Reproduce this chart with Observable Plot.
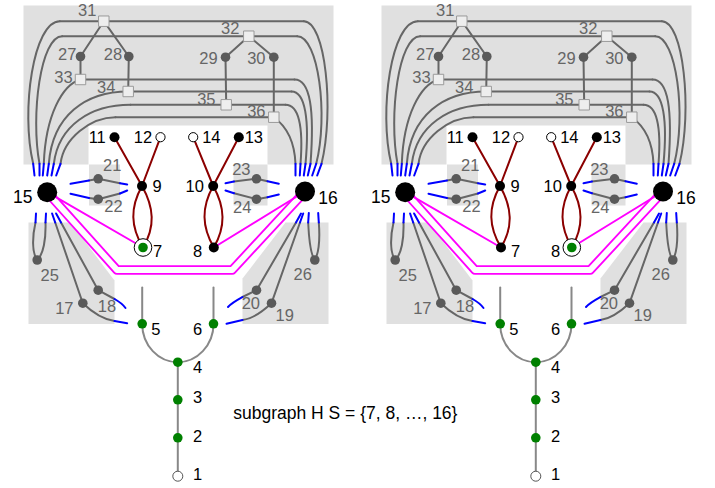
<!DOCTYPE html>
<html><head><meta charset="utf-8">
<style>
html,body{margin:0;padding:0;background:#fff;}
#chart{width:715px;height:488px;}
</style>
<script src="https://cdn.jsdelivr.net/npm/d3@7"></script>
<script src="https://cdn.jsdelivr.net/npm/@observablehq/plot@0.6"></script>
</head><body><div id="chart"></div>
<script>
// ---------- data (left panel coordinates) ----------
const panels = [{dx: 0, marked: 7}, {dx: 358, marked: 8}];

const nodes = [
  {id:1,x:177.3,y:475.7},{id:2,x:177.3,y:437.3},{id:3,x:177.3,y:399.3},{id:4,x:177.3,y:361.7},
  {id:5,x:141.7,y:323.3},{id:6,x:213,y:323.3},{id:7,x:142.5,y:247},{id:8,x:213.3,y:247},
  {id:9,x:141.5,y:185.5},{id:10,x:212.7,y:185.5},{id:11,x:114,y:136.7},{id:12,x:160,y:136.7},
  {id:13,x:238.3,y:136.7},{id:14,x:192.7,y:136.7},{id:15,x:46.7,y:191.7},{id:16,x:304.5,y:191},
  {id:17,x:82.3,y:302.7},{id:18,x:97.7,y:289.7},{id:19,x:271,y:302.7},{id:20,x:256,y:289.7},
  {id:21,x:97.7,y:178.3},{id:22,x:97.7,y:198.7},{id:23,x:256,y:178.3},{id:24,x:256,y:198.7},
  {id:25,x:36.7,y:259.5},{id:26,x:314.3,y:259.5},{id:27,x:80,y:56},{id:28,x:128.3,y:56},
  {id:29,x:225,y:56.7},{id:30,x:273.3,y:56.7},{id:31,x:103.3,y:20.7},{id:32,x:248.3,y:35.7},
  {id:33,x:80,y:79},{id:34,x:127.7,y:91},{id:35,x:225.7,y:104.3},{id:36,x:273.3,y:116.7}
];
const greenIds = [2,3,4,5,6];
const openIds = [1];
const blackIds = [9,10,11,13];
const whiteIds = [12,14];
const hubIds = [15,16];
const grayIds = [17,18,19,20,21,22,23,24,25,26,27,28,29,30];
const squareIds = [31,32,33,34,35,36];
const pairIds = [7,8];

const labels = [
  {id:1,x:197.2,y:474.2},{id:2,x:197.2,y:435.8},{id:3,x:197.2,y:397.5},{id:4,x:197.2,y:367.2},
  {id:5,x:155.3,y:329.5},{id:6,x:197.2,y:329.5},{id:7,x:157.2,y:250.8},{id:8,x:197.2,y:250.8},
  {id:9,x:156.7,y:186},{id:10,x:194.2,y:185.8},{id:11,x:96.7,y:137},{id:12,x:142.5,y:137},
  {id:13,x:253.3,y:137},{id:14,x:210.8,y:137},{id:15,x:22.2,y:196.7},{id:16,x:327.5,y:197.5},
  {id:17,x:63.8,y:308.3},{id:18,x:106.5,y:306.2},{id:19,x:284.2,y:315.5},{id:20,x:250.3,y:303},
  {id:21,x:111.7,y:165.5},{id:22,x:113,y:206.5},{id:23,x:240.8,y:169.2},{id:24,x:241.7,y:207.3},
  {id:25,x:49.2,y:274.8},{id:26,x:302.2,y:274.2},{id:27,x:66.7,y:54.2},{id:28,x:112.5,y:54.2},
  {id:29,x:208,y:58.3},{id:30,x:255.8,y:58.3},{id:31,x:86.7,y:10.3},{id:32,x:229.7,y:28.7},
  {id:33,x:63,y:77},{id:34,x:105.7,y:87.5},{id:35,x:205.8,y:98.8},{id:36,x:255.8,y:111.3}
];

const caption = [{x:232.7, y:412.7, text:"subgraph H S = {7, 8, \u2026, 16}"}];

// shaded regions (polygons)
const regions = [
  [[23,5],[333,5],[333,164],[267,164],[267,125],[88,125],[88,164],[23,164]],
  [[88.5,164],[119.5,164],[119.5,205],[88.5,205]],
  [[233,164],[267,164],[267,205],[233,205]],
  [[28,222],[70,222],[114,280],[114,323.5],[28,323.5]],
  [[328,222],[285,222],[242,278],[242,323.5],[328,323.5]]
];

// gray edge pieces: 2 points = segment, 4 points = cubic bezier
const grayPaths = [
  // top-left arcs to 15
  [[59.3,20.7],[33,20.7],[20,110],[32.7,163.3]],
  [[61.7,35.7],[40,35.7],[30,115],[39,163.3]],
  [[80,79],[62,84],[45,115],[43.3,163.3]],
  [[127.7,91],[85,91],[52,115],[48.3,163.3]],
  [[130,104.3],[90,104.3],[58,125],[53.3,163.3]],
  [[115,116.7],[90,116.7],[63,138],[60,163.3]],
  // horizontals
  [[59.3,20.7],[303.3,20.7]],
  [[61.7,35.7],[296.7,35.7]],
  [[80,79],[294,79]],
  [[127.7,91],[291,91]],
  [[130,104.3],[285,104.3]],
  [[115,116.7],[273.3,116.7]],
  // top-right arcs to 16
  [[303.3,20.7],[325,20.7],[334,110],[321,163.3]],
  [[296.7,35.7],[318,35.7],[328,115],[315.7,163.3]],
  [[294,79],[310,79],[314,110],[310,163.3]],
  [[291,91],[305,91],[309,120],[305,163.3]],
  [[285,104.3],[298,104.3],[303,125],[300,163.3]],
  [[273.3,116.7],[285,125],[294,140],[295,163.3]],
  // middle boxes
  [[97.7,178.3],[88.5,180]],[[97.7,178.3],[119.5,182.7]],
  [[97.7,198.7],[88.5,197.5]],[[97.7,198.7],[119.5,193]],
  [[256,178.3],[233.5,181]],[[256,178.3],[267,180.7]],
  [[256,198.7],[233.5,192.7]],[[256,198.7],[267,196.7]],
  // bottom left
  [[35,222],[32,235],[31,252],[36.7,259.5]],
  [[45,222],[45.5,238],[43,254],[36.7,259.5]],
  [[82.3,302.7],[54.7,222]],
  [[97.7,289.7],[60.5,222]],
  [[97.7,289.7],[114,298.5]],
  [[82.3,302.7],[92,312],[104,319],[114,320.5]],
  // bottom right
  [[307.7,222],[308.5,240],[310,254],[314.3,259.5]],
  [[318.3,222],[319.5,238],[318.5,252],[314.3,259.5]],
  [[271,302.7],[299.5,222]],
  [[256,289.7],[295.5,222]],
  [[256,289.7],[242,296.5]],
  [[271,302.7],[261,312],[250,318.5],[242,319.5]]
];
const treeEdges = [[31,27],[31,28],[27,33],[28,34],[32,29],[32,30],[29,35],[30,36]];

// blue (cut) edge ends
const bluePaths = [
  [[32.7,163.3],[34,175]],[[39,163.3],[39,175]],[[43.3,163.3],[42.3,175]],
  [[48.3,163.3],[46.7,175]],[[53.3,163.3],[51,175]],[[60,163.3],[55.7,175]],
  [[321,163.3],[316.7,175]],[[315.7,163.3],[311.7,175]],[[310,163.3],[307.3,175]],
  [[305,163.3],[303.3,175]],[[300,163.3],[299.3,175]],[[295,163.3],[295,175]],
  [[88.5,180],[70,183.3]],[[119.5,182.7],[126.7,184]],
  [[88.5,197.5],[70,193.3]],[[119.5,193],[126.7,190]],
  [[233.5,181],[225,182.7]],[[267,180.7],[278.3,183.3]],
  [[233.5,192.7],[225,190]],[[267,196.7],[278.3,194]],
  [[35,222],[35.5,213]],[[45,222],[45.5,213]],
  [[54.7,222],[51.6,213]],[[60.5,222],[55.6,213]],
  [[307.7,222],[308.3,212.5]],[[318.3,222],[317.7,212.5]],
  [[299.5,222],[302.7,213]],[[295.5,222],[300.5,213]],
  [[114,298.5],[118.5,301],[122.5,304],[125,307.5]],
  [[114,320.5],[126.7,322.7]],
  [[242,296.5],[237.5,299],[231,302.5],[227.5,306.5]],
  [[242,319.5],[226,323.3]]
];

// magenta edges
const pinkDouble = [[[46.7,191.7],[116.5,269.5],[231.7,269.5],[304.5,191]]];
const pinkSingle = [[[46.7,191.7],[142.5,247]],[[304.5,191],[213.3,247]]];

// dark red edges
const redEdges = [[11,9],[12,9],[13,10],[14,10]];
const redLens = [
  [[141.5,185.5],[129.5,207],[130,226],[142.5,247]],
  [[141.5,185.5],[153.5,207],[155,226],[142.5,247]],
  [[212.7,185.5],[200.7,207],[201.3,226],[213.3,247]],
  [[212.7,185.5],[224.7,207],[225.3,226],[213.3,247]]
];

// lower tree
const lowerPaths = [
  [[141.7,287],[141.7,323.3]],
  [[213,287],[213,323.3]],
  [[141.7,323.3],[141.7,345],[158,361.7],[177.3,361.7]],
  [[177.3,361.7],[196.5,361.7],[213,345],[213,323.3]],
  [[177.3,361.7],[177.3,475.7]]
];

// ---------- helpers ----------
function bezierChain(context) {
  let pts = [];
  return {
    areaStart() {}, areaEnd() {},
    lineStart() { pts = []; },
    point(x, y) { pts.push([+x, +y]); },
    lineEnd() {
      if (!pts.length) return;
      context.moveTo(pts[0][0], pts[0][1]);
      let i = 1;
      if (pts.length === 4) {
        context.bezierCurveTo(pts[1][0], pts[1][1], pts[2][0], pts[2][1], pts[3][0], pts[3][1]);
        i = 4;
      }
      for (; i < pts.length; i++) context.lineTo(pts[i][0], pts[i][1]);
    }
  };
}
const byId = new Map(nodes.map(d => [d.id, d]));
const flat = (paths, dx, tag) => paths.flatMap((p, i) => p.map(([x, y]) => ({x: x + dx, y, k: tag + i})));
const edgePaths = (edges) => edges.map(([a, b]) => [[byId.get(a).x, byId.get(a).y], [byId.get(b).x, byId.get(b).y]]);
const pick = (ids, dx) => ids.map(id => ({...byId.get(id), x: byId.get(id).x + dx}));

const GRAY_NODE = "#5a5a5a", GRAY_EDGE = "#666", GRAY_LABEL = "#666";

const marks = [];
for (const P of panels) {
  const dx = P.dx;
  marks.push(
    Plot.line(flat(regions, dx, "r"), {x: "x", y: "y", z: "k", fill: "#e0e0e0", stroke: "none", curve: "linear-closed"}),
    Plot.line(flat(grayPaths, dx, "g"), {x: "x", y: "y", z: "k", stroke: GRAY_EDGE, strokeWidth: 2, curve: bezierChain}),
    Plot.line(flat(edgePaths(treeEdges), dx, "t"), {x: "x", y: "y", z: "k", stroke: GRAY_EDGE, strokeWidth: 2}),
    Plot.line(flat(lowerPaths, dx, "l"), {x: "x", y: "y", z: "k", stroke: "#888", strokeWidth: 2, curve: bezierChain}),
    Plot.line(flat(bluePaths, dx, "b"), {x: "x", y: "y", z: "k", stroke: "#0000ff", strokeWidth: 2, curve: bezierChain}),
    Plot.line(flat(pinkDouble, dx, "p"), {x: "x", y: "y", z: "k", stroke: "#ff00ff", strokeWidth: 9.5, strokeLinejoin: "round"}),
    Plot.line(flat(pinkDouble, dx, "p"), {x: "x", y: "y", z: "k", stroke: "#ffffff", strokeWidth: 5.8, strokeLinejoin: "round"}),
    Plot.line(flat(pinkSingle, dx, "s"), {x: "x", y: "y", z: "k", stroke: "#ff00ff", strokeWidth: 2}),
    Plot.line(flat(edgePaths(redEdges), dx, "m"), {x: "x", y: "y", z: "k", stroke: "#8b0000", strokeWidth: 2}),
    Plot.line(flat(redLens, dx, "n"), {x: "x", y: "y", z: "k", stroke: "#8b0000", strokeWidth: 2, curve: bezierChain}),
    // nodes
    Plot.dot(pick(hubIds, dx), {x: "x", y: "y", r: 10, fill: "#000"}),
    Plot.dot(pick(blackIds, dx), {x: "x", y: "y", r: 5, fill: "#000"}),
    Plot.dot(pick(whiteIds, dx), {x: "x", y: "y", r: 4.6, fill: "#fff", stroke: "#000", strokeWidth: 1}),
    Plot.dot(pick(grayIds, dx), {x: "x", y: "y", r: 4.8, fill: GRAY_NODE}),
    Plot.dot(pick(squareIds, dx), {x: "x", y: "y", r: 5.9, symbol: "square", fill: "#eeeeee", stroke: "#9a9a9a", strokeWidth: 1}),
    Plot.dot(pick(greenIds, dx), {x: "x", y: "y", r: 4.8, fill: "#008000"}),
    Plot.dot(pick(openIds, dx), {x: "x", y: "y", r: 5, fill: "#fff", stroke: "#555", strokeWidth: 1}),
    Plot.dot(pick(pairIds.filter(id => id !== P.marked), dx), {x: "x", y: "y", r: 5, fill: "#000"}),
    Plot.dot(pick([P.marked], dx), {x: "x", y: "y", r: 8.8, fill: "#fff", stroke: "#000", strokeWidth: 1}),
    Plot.dot(pick([P.marked], dx), {x: "x", y: "y", r: 4.8, fill: "#008000"}),
    // labels
    Plot.text(labels.map(d => ({...d, x: d.x + dx})), {
      x: "x", y: "y", text: d => String(d.id),
      fill: d => d.id >= 17 ? GRAY_LABEL : "#000",
      fontSize: d => (d.id === 15 || d.id === 16) ? 17.5 : 16.5,
      textAnchor: "middle"
    })
  );
}
marks.push(Plot.text(caption, {x: "x", y: "y", text: "text", fontSize: 17.5, fill: "#000", textAnchor: "start"}));

const chart = Plot.plot({
  width: 715, height: 488,
  margin: 0, marginTop: 0, marginRight: 0, marginBottom: 0, marginLeft: 0,
  x: {domain: [0, 715], range: [0, 715], axis: null},
  y: {domain: [0, 488], range: [0, 488], axis: null},
  style: {fontFamily: "'Liberation Sans', Arial, Helvetica, sans-serif", background: "#fff", overflow: "visible"},
  marks
});
document.getElementById("chart").appendChild(chart);
</script></body></html>
